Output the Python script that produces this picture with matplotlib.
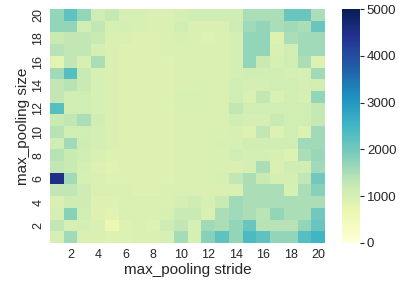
import numpy as np
import matplotlib
matplotlib.use('Agg')
import matplotlib.pyplot as plt

stride = list(range(1, 21))
pool_size = list(range(20, 0, -1))  # rows listed top to bottom

# values per max_pooling size (top row = size 20), columns = stride 1..20
values = [
    [1700, 2200, 1700, 1150, 1250, 1000, 1000, 950, 950, 1050, 1100, 1100, 1100, 1100, 1500, 1500, 1500, 2100, 2100, 1500],
    [1700, 1700, 1100, 1300, 1000, 1050, 1000, 950, 950, 1100, 950, 950, 950, 1150, 1600, 1700, 1500, 1600, 1500, 2100],
    [1200, 1300, 1300, 1200, 950, 950, 900, 900, 950, 1000, 950, 900, 950, 1050, 1700, 1700, 900, 1500, 1600, 1600],
    [1400, 1300, 1300, 1050, 950, 900, 900, 900, 950, 950, 950, 950, 950, 1050, 1700, 1700, 950, 1100, 1600, 1600],
    [800, 1300, 1000, 1500, 950, 900, 900, 900, 900, 950, 950, 950, 950, 1050, 1700, 1200, 1000, 1100, 1500, 900],
    [1600, 2300, 1200, 1000, 950, 900, 900, 900, 900, 950, 950, 950, 950, 1050, 1100, 1100, 1100, 1050, 1000, 1600],
    [1300, 1400, 1200, 1000, 950, 900, 900, 900, 900, 950, 950, 950, 950, 1100, 1050, 1050, 1100, 1100, 1050, 1100],
    [1300, 1100, 1100, 1000, 950, 900, 900, 900, 900, 1000, 1000, 950, 950, 1100, 950, 1300, 950, 1100, 1000, 1700],
    [2300, 1100, 1100, 1000, 950, 900, 900, 900, 900, 950, 950, 950, 950, 1300, 1100, 1100, 1100, 1100, 1100, 1250],
    [1200, 1300, 1500, 1100, 950, 900, 900, 900, 900, 950, 950, 950, 950, 1100, 1050, 1050, 1200, 1100, 1100, 1250],
    [1400, 1100, 1100, 1050, 950, 900, 900, 900, 900, 950, 950, 950, 950, 1000, 900, 1300, 900, 1100, 900, 1600],
    [1100, 1600, 1150, 1050, 950, 900, 900, 900, 900, 950, 950, 950, 1000, 1000, 1100, 1100, 1100, 1100, 1600, 1600],
    [1400, 1200, 1100, 950, 900, 900, 900, 900, 900, 950, 950, 950, 950, 1100, 1050, 1050, 1000, 900, 1500, 1650],
    [1300, 1200, 1050, 900, 850, 900, 900, 900, 900, 950, 950, 950, 950, 950, 1050, 1500, 950, 1100, 1100, 1600],
    [4500, 1600, 1000, 950, 900, 900, 900, 900, 900, 950, 950, 950, 1000, 1300, 1500, 1200, 1050, 1050, 1300, 2000],
    [1300, 1300, 1150, 950, 950, 950, 900, 900, 950, 950, 950, 950, 950, 950, 1500, 1500, 1500, 1000, 1500, 1800],
    [950, 1150, 1150, 900, 900, 950, 950, 950, 950, 1050, 1150, 1000, 1200, 1600, 1500, 1500, 1500, 1500, 1500, 1500],
    [1000, 1800, 1100, 900, 850, 950, 950, 950, 1000, 1200, 1200, 950, 1500, 1600, 1500, 1350, 1700, 1500, 1500, 2000],
    [1300, 1000, 1050, 950, 650, 900, 950, 900, 1150, 1300, 1000, 1600, 1500, 1700, 2100, 1400, 1400, 1400, 1700, 2100],
    [1000, 1600, 950, 950, 900, 900, 950, 950, 1000, 1550, 1000, 1800, 2200, 1700, 2400, 2200, 1700, 1700, 2300, 2500],
]

plt.rcParams['font.family'] = ['Liberation Sans', 'DejaVu Sans']
text_color = '#262626'

data = np.array(values)[::-1]
sizes = pool_size[::-1]

fig = plt.figure(figsize=(3.99, 2.91), dpi=100)
ax = fig.add_axes([0.125, 0.165, 0.69, 0.804])
cax = fig.add_axes([0.857, 0.165, 0.045, 0.804])

x_edges = np.arange(stride[0] - 0.5, stride[-1] + 1)
y_edges = np.arange(sizes[0] - 0.5, sizes[-1] + 1)
mesh = ax.pcolormesh(x_edges, y_edges, data, cmap='YlGnBu', vmin=0, vmax=5000)

ax.set_xticks(stride[1::2])
ax.set_yticks(sizes[1::2])
ax.set_yticklabels([str(s) for s in sizes[1::2]], rotation=90, va='center')
ax.tick_params(length=0, labelsize=9, colors=text_color, pad=4)
for s in ax.spines.values():
    s.set_visible(False)
ax.set_xlabel('max_pooling stride', fontsize=11, color=text_color, labelpad=2)
ax.set_ylabel('max_pooling size', fontsize=11, color=text_color, labelpad=2)

cb = fig.colorbar(mesh, cax=cax)
cb.outline.set_visible(False)
cb.set_ticks([0, 1000, 2000, 3000, 4000, 5000])
cb.ax.tick_params(length=3, width=0.8, labelsize=9.5, colors=text_color, pad=2)

fig.savefig('out.png', dpi=100)
